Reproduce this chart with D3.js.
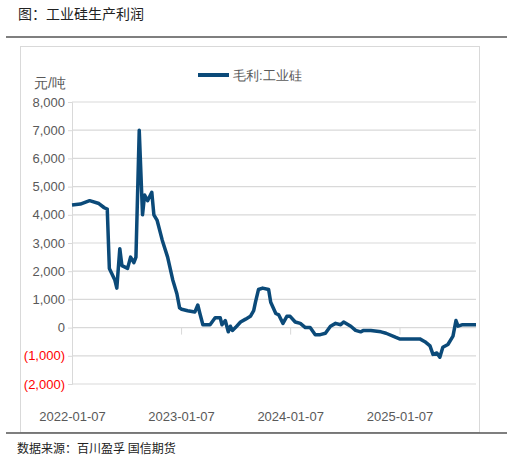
<!DOCTYPE html>
<html><head><meta charset="utf-8">
<script src="https://cdn.jsdelivr.net/npm/d3@7"></script>
<style>body{margin:0;background:#fff}svg{display:block}</style>
</head><body>
<svg id="chart" width="507" height="462"></svg>
<script>
var dates = ['2022-01-07','2022-02-04','2022-03-07','2022-04-07','2022-04-25','2022-05-05','2022-05-12','2022-05-30','2022-06-06','2022-06-16','2022-06-23','2022-07-12','2022-07-22','2022-08-02','2022-08-09','2022-08-20','2022-08-31','2022-09-07','2022-09-17','2022-10-01','2022-10-08','2022-10-19','2022-11-05','2022-11-23','2022-12-10','2022-12-24','2023-01-02','2023-01-09','2023-01-29','2023-02-22','2023-03-04','2023-03-11','2023-03-21','2023-04-14','2023-05-01','2023-05-18','2023-05-24','2023-06-04','2023-06-14','2023-06-21','2023-06-28','2023-07-08','2023-07-25','2023-08-11','2023-08-27','2023-09-07','2023-09-13','2023-09-23','2023-10-07','2023-10-27','2023-11-03','2023-11-20','2023-11-30','2023-12-14','2023-12-27','2024-01-07','2024-01-24','2024-02-10','2024-02-27','2024-03-14','2024-03-31','2024-04-17','2024-05-04','2024-05-21','2024-06-07','2024-06-24','2024-07-04','2024-07-28','2024-08-13','2024-08-30','2024-09-09','2024-10-03','2024-11-06','2024-11-23','2024-12-26','2025-01-07','2025-02-10','2025-03-16','2025-04-02','2025-04-19','2025-04-29','2025-05-12','2025-05-22','2025-06-01','2025-06-18','2025-07-05','2025-07-15','2025-07-22','2025-08-04','2025-08-31','2025-09-20'];
var profit = [4350,4380,4500,4400,4250,4200,2100,1700,1400,2800,2200,2100,2500,2300,2500,7000,4000,4700,4500,4800,4000,3800,3100,2500,1700,1200,700,650,600,550,800,500,100,100,350,350,100,250,-150,50,-100,0,200,300,400,600,900,1350,1400,1350,900,500,450,150,400,400,200,150,0,0,-250,-250,-200,50,150,100,200,50,-100,-150,-100,-100,-150,-200,-350,-400,-400,-400,-500,-650,-950,-900,-1050,-700,-600,-300,250,50,100,100,100];
var yTicks = [8000,7000,6000,5000,4000,3000,2000,1000,0,-1000,-2000];
var xTicks = ['2022-01-07','2023-01-07','2024-01-07','2025-01-07'];

var parse = d3.timeParse('%Y-%m-%d');
var svg = d3.select('#chart');
var font = '"Liberation Sans Narrow","Liberation Sans",sans-serif';

// header / footer
svg.append('text').attr('x', 18).attr('y', 19).attr('font-family', '"Noto Sans CJK SC"').attr('font-size', 14).attr('fill', '#222').text('图：工业硅生产利润');
svg.append('line').attr('x1', 6).attr('x2', 507).attr('y1', 37).attr('y2', 37).attr('stroke', '#555').attr('stroke-width', 1.5);
svg.append('rect').attr('x', 20.5).attr('y', 46.5).attr('width', 459).attr('height', 386).attr('fill', 'none').attr('stroke', '#d9d9d9');
svg.append('line').attr('x1', 6).attr('x2', 507).attr('y1', 433).attr('y2', 433).attr('stroke', '#555').attr('stroke-width', 1.5);
svg.append('text').attr('x', 17).attr('y', 453).attr('font-family', '"Noto Sans CJK SC"').attr('font-size', 12).attr('fill', '#222').text('数据来源：百川盈孚 国信期货');

var x = d3.scaleTime().domain([parse('2022-01-07'), parse('2025-09-20')]).range([72, 476]);
var y = d3.scaleLinear().domain([-2000, 8000]).range([384, 102]);

// grid
svg.append('g').selectAll('line').data(yTicks).enter().append('line')
  .attr('x1', 72).attr('x2', 476).attr('y1', function(d){return y(d);}).attr('y2', function(d){return y(d);})
  .attr('stroke', '#d9d9d9').attr('stroke-width', 1.2);

var yAxis = svg.append('g').attr('transform', 'translate(72,0)')
  .call(d3.axisLeft(y).tickValues(yTicks).tickSize(4).tickFormat(function(d){
    return d < 0 ? '(' + d3.format(',')(-d) + ')' : d3.format(',')(d);
  }));
yAxis.select('.domain').attr('stroke', '#d9d9d9');
yAxis.selectAll('.tick line').attr('stroke', '#d9d9d9');
yAxis.selectAll('text').attr('font-family', font).attr('font-size', 13)
  .attr('fill', function(d){return d < 0 ? '#ff0000' : '#595959';});

var xAxis = svg.append('g').attr('transform', 'translate(0,' + y(0) + ')')
  .call(d3.axisBottom(x).tickValues(xTicks.map(parse)).tickSize(7).tickFormat(d3.timeFormat('%Y-%m-%d')));
xAxis.select('.domain').remove();
xAxis.selectAll('.tick line').attr('stroke', '#d9d9d9');
xAxis.selectAll('text').attr('y', 84).attr('font-family', font).attr('font-size', 13).attr('fill', '#595959');

svg.append('text').attr('x', 34).attr('y', 88).attr('font-family', font).attr('font-size', 14).attr('fill', '#595959').text('元/吨');

// legend
svg.append('line').attr('x1', 198).attr('x2', 229).attr('y1', 75).attr('y2', 75).attr('stroke', '#0b4a79').attr('stroke-width', 4);
svg.append('text').attr('x', 233).attr('y', 80).attr('font-family', font).attr('font-size', 13).attr('fill', '#595959').text('毛利:工业硅');

var line = d3.line().x(function(d, i){return x(parse(dates[i]));}).y(function(d){return y(d);});
svg.append('path').datum(profit).attr('d', line).attr('fill', 'none')
  .attr('stroke', '#0b4a79').attr('stroke-width', 3.5).attr('stroke-linejoin', 'round');
</script>
</body></html>
